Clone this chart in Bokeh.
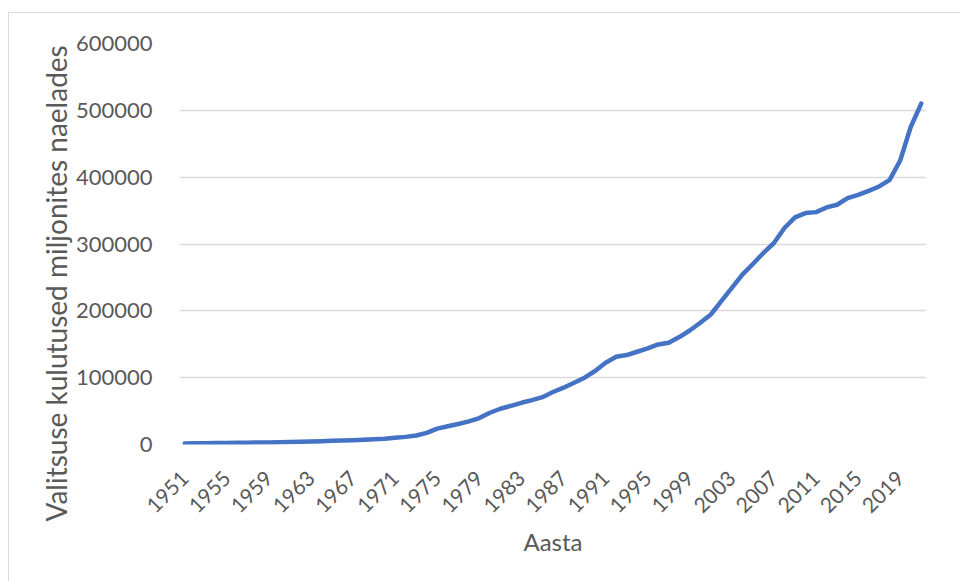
from math import pi

from bokeh.embed import file_html
from bokeh.models import FixedTicker, Range1d, BasicTickFormatter, Title
from bokeh.plotting import figure
from bokeh.resources import INLINE

# Government expenditure, millions of pounds, 1951-2021
years = list(range(1951, 2022))
spending = [
    1500, 1700, 1900, 2100, 2300, 2500, 2700, 2900, 3100, 3400,   # 1951-1960
    3700, 4100, 4500, 5000, 5500, 6000, 6500, 7200, 7800, 8600,   # 1961-1970
    10000, 11400, 13400, 17300, 23800, 27200, 30700, 34700, 39600, 47500,  # 1971-1980
    53500, 57900, 62400, 66300, 70800, 78500, 85000, 92500, 100000, 110000,  # 1981-1990
    122400, 131300, 133800, 138800, 143800, 149700, 152200, 160700, 170600, 182100,  # 1991-2000
    194500, 214400, 234300, 254200, 270100, 286600, 301500, 323900, 339800, 346300,  # 2001-2010
    347700, 354700, 358700, 368600, 373600, 379600, 386100, 396000, 424900, 475000,  # 2011-2020
    510000,  # 2021
]

year_ticks = list(range(1951, 2022, 4))
value_ticks = [0, 100000, 200000, 300000, 400000, 500000, 600000]

x_title = "Aasta"
y_title = "Valitsuse kulutused miljonites naelades"

FONT = "Lato"
TEXT = "#595959"
GRID = "#d9d9d9"

p = figure(
    width=952,
    height=569,
    output_backend="svg",
    toolbar_location=None,
    x_range=Range1d(1950.5, 2021.5),
    y_range=Range1d(0, 600000),
    min_border_left=170,
    min_border_right=35,
    min_border_top=30,
    min_border_bottom=138,
)
p.margin = (12, 0, 0, 8)
p.styles = {"border-top": "1px solid #d9d9d9", "border-left": "1px solid #d9d9d9"}
p.outline_line_color = None
p.background_fill_color = "white"
p.border_fill_color = "white"

p.line(years, spending, line_color="#4472C4", line_width=4.5,
       line_join="round", line_cap="round")

# horizontal gridlines only
p.xgrid.grid_line_color = None
p.ygrid.grid_line_color = GRID
p.ygrid.grid_line_width = 1.3

# x axis: every fourth year, slanted labels
xa = p.xaxis[0]
xa.ticker = FixedTicker(ticks=year_ticks)
xa.major_label_orientation = pi / 4
xa.axis_line_color = None
xa.major_tick_line_color = None
xa.minor_tick_line_color = None
xa.major_label_text_font = FONT
xa.major_label_text_font_size = "21px"
xa.major_label_text_color = TEXT
xa.major_label_standoff = 24
xa.axis_label = x_title
xa.axis_label_text_font = FONT
xa.axis_label_text_font_size = "24px"
xa.axis_label_text_font_style = "normal"
xa.axis_label_text_color = TEXT
xa.axis_label_standoff = 4

# y axis
ya = p.yaxis[0]
ya.ticker = FixedTicker(ticks=value_ticks)
ya.formatter = BasicTickFormatter(use_scientific=False)
ya.axis_line_color = None
ya.major_tick_line_color = None
ya.minor_tick_line_color = None
ya.major_label_text_font = FONT
ya.major_label_text_font_size = "22px"
ya.major_label_text_color = TEXT
ya.major_label_standoff = 21

# vertical axis title, starting below the bottom of the plot area
p.add_layout(Title(
    text=y_title, align="left", offset=-77, standoff=0,
    text_font=FONT, text_font_size="28px", text_font_style="normal",
    text_color=TEXT,
), "left")

open("out.html", "w").write(file_html(p, INLINE))
